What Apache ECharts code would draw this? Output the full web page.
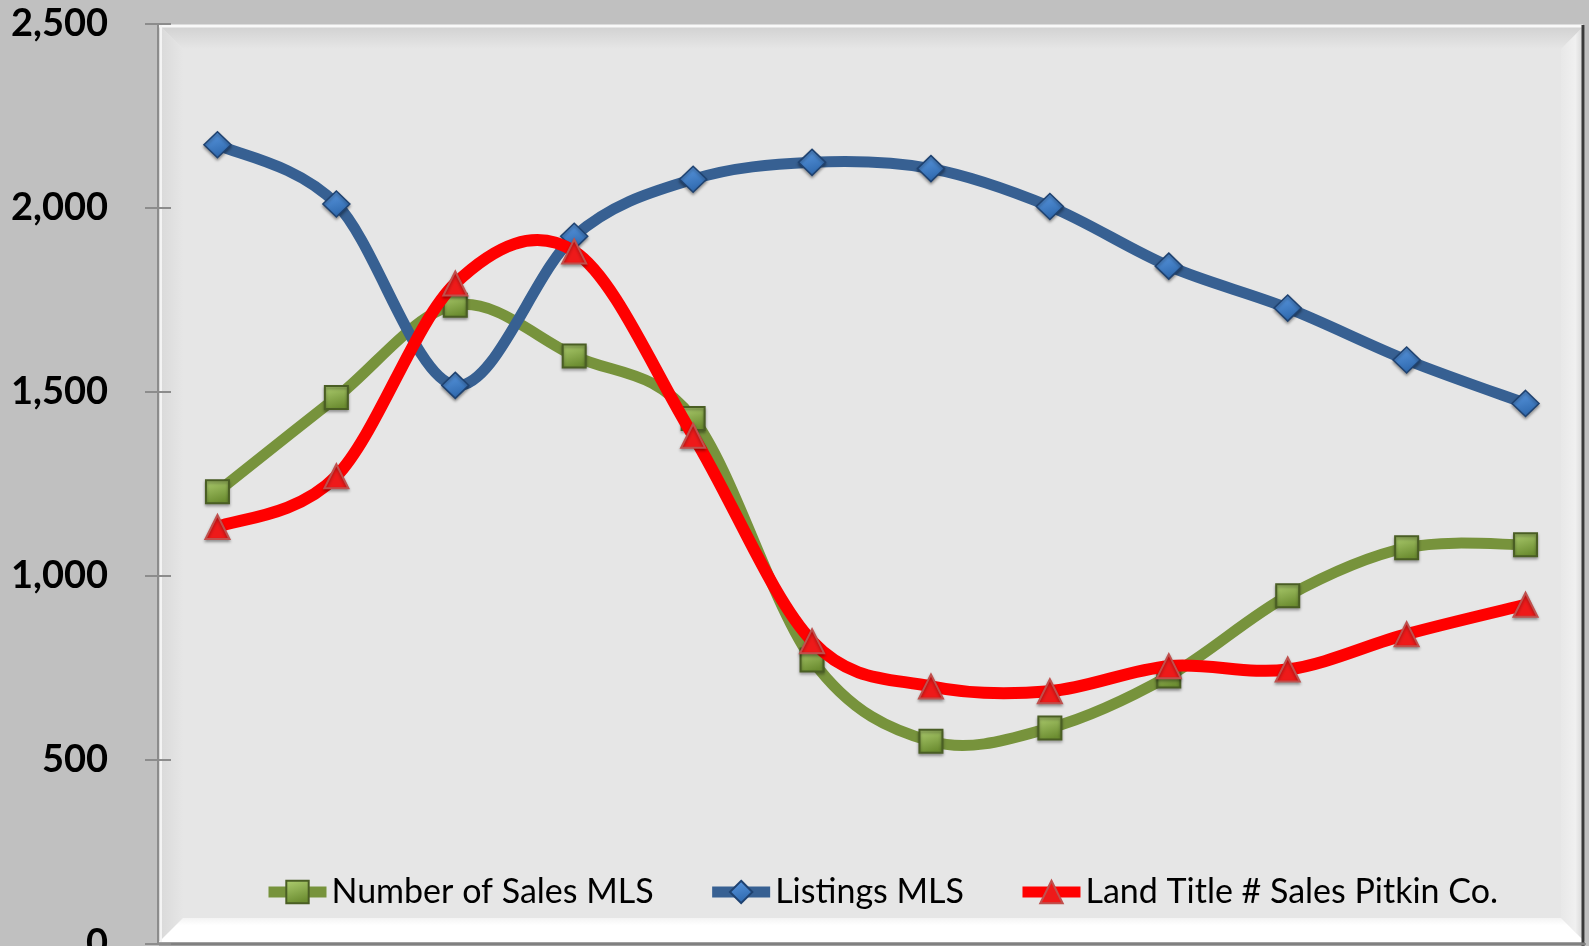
<!DOCTYPE html>
<html>
<head>
<meta charset="utf-8">
<script src="https://cdn.jsdelivr.net/npm/echarts@6/dist/echarts.min.js"></script>
<style>
html,body{margin:0;padding:0;background:#c0c0c0;}
#chart{width:1589px;height:946px;}
</style>
</head>
<body>
<div id="chart"></div>
<script>
// ---- data ----
var categories = ['2003','2004','2005','2006','2007','2008','2009','2010','2011','2012','2013','2014'];
var salesMLS    = [1229, 1485, 1736, 1598, 1428, 772, 551, 587, 728, 946, 1077, 1085];
var listingsMLS = [2172, 2011, 1518, 1923, 2078, 2124, 2107, 2004, 1842, 1728, 1587, 1469];
var landTitle   = [1133, 1271, 1795, 1882, 1381, 823, 700, 687, 755, 746, 842, 922];
var seriesNames = ['Number of Sales MLS', 'Listings MLS', 'Land Title # Sales Pitkin Co.'];
var yTicks = {min: 0, max: 2500, interval: 500};

var chart = echarts.init(document.getElementById('chart'));
var G = echarts.graphic;

function grad(c1, c2) {
  return new G.LinearGradient(0, 0, 0.3, 1, [{offset: 0, color: c1}, {offset: 1, color: c2}]);
}

// smooth curve (Catmull-Rom style, like the spreadsheet's smoothed line) drawn through the axis scales
function curveRenderer(values, color, width) {
  return function (params, api) {
    var i = params.dataIndex;
    var n = values.length;
    if (i >= n - 1) return null;
    var p0 = api.coord([Math.max(i - 1, 0), values[Math.max(i - 1, 0)]]);
    var p1 = api.coord([i, values[i]]);
    var p2 = api.coord([i + 1, values[i + 1]]);
    var p3 = api.coord([Math.min(i + 2, n - 1), values[Math.min(i + 2, n - 1)]]);
    var k = 1 / 6;
    return {
      type: 'bezierCurve',
      shape: {
        x1: p1[0], y1: p1[1], x2: p2[0], y2: p2[1],
        cpx1: p1[0] + (p2[0] - p0[0]) * k, cpy1: p1[1] + (p2[1] - p0[1]) * k,
        cpx2: p2[0] - (p3[0] - p1[0]) * k, cpy2: p2[1] - (p3[1] - p1[1]) * k
      },
      style: {stroke: color, lineWidth: width, fill: null, lineCap: 'round', lineJoin: 'round'}
    };
  };
}
function idxData(values) { return values.map(function (v, i) { return [i, v]; }); }

// plot frame decoration
var L = 159, T = 25, R = 1585, B = 942, bw = 24;
var frame = [
  {type: 'rect', shape: {x: L, y: T, width: R - L, height: B - T}, style: {fill: '#e6e6e6'}, z: -10, silent: true},
  {type: 'polygon', shape: {points: [[L, T], [R, T], [R - bw, T + bw], [L + bw, T + bw]]},
   style: {fill: new G.LinearGradient(0, 0, 0, 1, [{offset: 0, color: '#d0d0d0'}, {offset: 1, color: '#e6e6e6'}])}, z: -9, silent: true},
  {type: 'polygon', shape: {points: [[L, T], [L + bw, T + bw], [L + bw, B - bw], [L, B]]},
   style: {fill: new G.LinearGradient(0, 0, 1, 0, [{offset: 0, color: '#d9d9d9'}, {offset: 1, color: '#e6e6e6'}])}, z: -9, silent: true},
  {type: 'polygon', shape: {points: [[R, T], [R, B], [R - bw, B - bw], [R - bw, T + bw]]},
   style: {fill: new G.LinearGradient(0, 0, 1, 0, [{offset: 0, color: '#e8e8e8'}, {offset: 0.6, color: '#f0f0f0'}, {offset: 1, color: '#d0d0d0'}])}, z: -9, silent: true},
  {type: 'polygon', shape: {points: [[L, B], [R, B], [R - bw, B - bw], [L + bw, B - bw]]},
   style: {fill: new G.LinearGradient(0, 0, 0, 1, [{offset: 0, color: '#f4f4f4'}, {offset: 0.3, color: '#ffffff'}, {offset: 1, color: '#ffffff'}])}, z: -9, silent: true},
  {type: 'line', shape: {x1: L, y1: T + 1, x2: R - 2, y2: T + 1}, style: {stroke: '#f8f8f8', lineWidth: 3}, z: -8, silent: true},
  {type: 'line', shape: {x1: L + 2, y1: T, x2: L + 2, y2: B}, style: {stroke: '#f4f4f4', lineWidth: 2}, z: -8, silent: true},
  {type: 'line', shape: {x1: R - 2, y1: T, x2: R - 2, y2: B + 4}, style: {stroke: '#3a3a3a', lineWidth: 3}, z: -8, silent: true},
  {type: 'line', shape: {x1: L, y1: B + 2, x2: R, y2: B + 2}, style: {stroke: '#808080', lineWidth: 3}, z: -8, silent: true}
];

var lineColors = ['#77933c', '#376092', '#ff0000'];
var lineWidths = [11, 11, 12];

var option = {
  backgroundColor: '#c0c0c0',
  animation: false,
  graphic: frame,
  grid: {left: 158, right: 4, top: 24, bottom: 2, containLabel: false, outerBoundsMode: 'none'},
  legend: {
    left: 258,
    top: 870,
    itemWidth: 58,
    itemHeight: 28,
    itemGap: 53,
    lineStyle: {width: 11, opacity: 1},
    textStyle: {fontFamily: 'Lato', fontSize: 34, color: '#000'},
    data: seriesNames
  },
  xAxis: {
    type: 'category',
    data: categories,
    boundaryGap: true,
    axisLine: {show: true, lineStyle: {color: '#808080', width: 2}},
    axisTick: {show: false},
    axisLabel: {show: false},
    splitLine: {show: false}
  },
  yAxis: [{
    type: 'value',
    min: yTicks.min, max: yTicks.max, interval: yTicks.interval,
    axisLine: {show: true, lineStyle: {color: '#8c8c8c', width: 2}},
    axisTick: {show: true, length: 13, lineStyle: {color: '#8c8c8c', width: 2}},
    axisLabel: {
      margin: 50, fontFamily: 'Lato', fontWeight: 'bold', fontSize: 38, color: '#000',
      formatter: function (v) { return v.toLocaleString('en-US'); }
    },
    splitLine: {show: false}
  }, {
    type: 'value', position: 'left',
    min: yTicks.min, max: yTicks.max, interval: yTicks.interval,
    axisLine: {show: false},
    axisTick: {show: true, inside: true, length: 13, lineStyle: {color: '#8c8c8c', width: 2}},
    axisLabel: {show: false},
    splitLine: {show: false}
  }],
  series: [{
    name: seriesNames[0], type: 'line', data: salesMLS,
    symbol: 'rect', symbolSize: 23,
    lineStyle: {color: lineColors[0], width: lineWidths[0], opacity: 0},
    itemStyle: {color: grad('#b0cf72', '#6c8d31'), borderColor: '#4a5e24', borderWidth: 2,
      shadowColor: 'rgba(0,0,0,0.35)', shadowBlur: 3, shadowOffsetY: 2},
    z: 3
  }, {
    name: seriesNames[1], type: 'line', data: listingsMLS,
    symbol: 'diamond', symbolSize: [27, 26],
    lineStyle: {color: lineColors[1], width: lineWidths[1], opacity: 0},
    itemStyle: {color: grad('#5d9be3', '#2f69ae'), borderColor: '#1f4270', borderWidth: 1.5,
      shadowColor: 'rgba(0,0,0,0.35)', shadowBlur: 3, shadowOffsetY: 2},
    z: 5
  }, {
    name: seriesNames[2], type: 'line', data: landTitle,
    symbol: 'triangle', symbolSize: [24, 24],
    lineStyle: {color: lineColors[2], width: lineWidths[2], opacity: 0},
    itemStyle: {color: '#ee1a1a', borderColor: '#c0504d', borderWidth: 2,
      shadowColor: 'rgba(0,0,0,0.3)', shadowBlur: 3, shadowOffsetY: 2},
    z: 7
  }, {
    name: seriesNames[0], type: 'custom', data: idxData(salesMLS),
    renderItem: curveRenderer(salesMLS, lineColors[0], lineWidths[0]), z: 2, silent: true
  }, {
    name: seriesNames[1], type: 'custom', data: idxData(listingsMLS),
    renderItem: curveRenderer(listingsMLS, lineColors[1], lineWidths[1]), z: 4, silent: true
  }, {
    name: seriesNames[2], type: 'custom', data: idxData(landTitle),
    renderItem: curveRenderer(landTitle, lineColors[2], lineWidths[2]), z: 6, silent: true
  }]
};
chart.setOption(option);
</script>
</body>
</html>
